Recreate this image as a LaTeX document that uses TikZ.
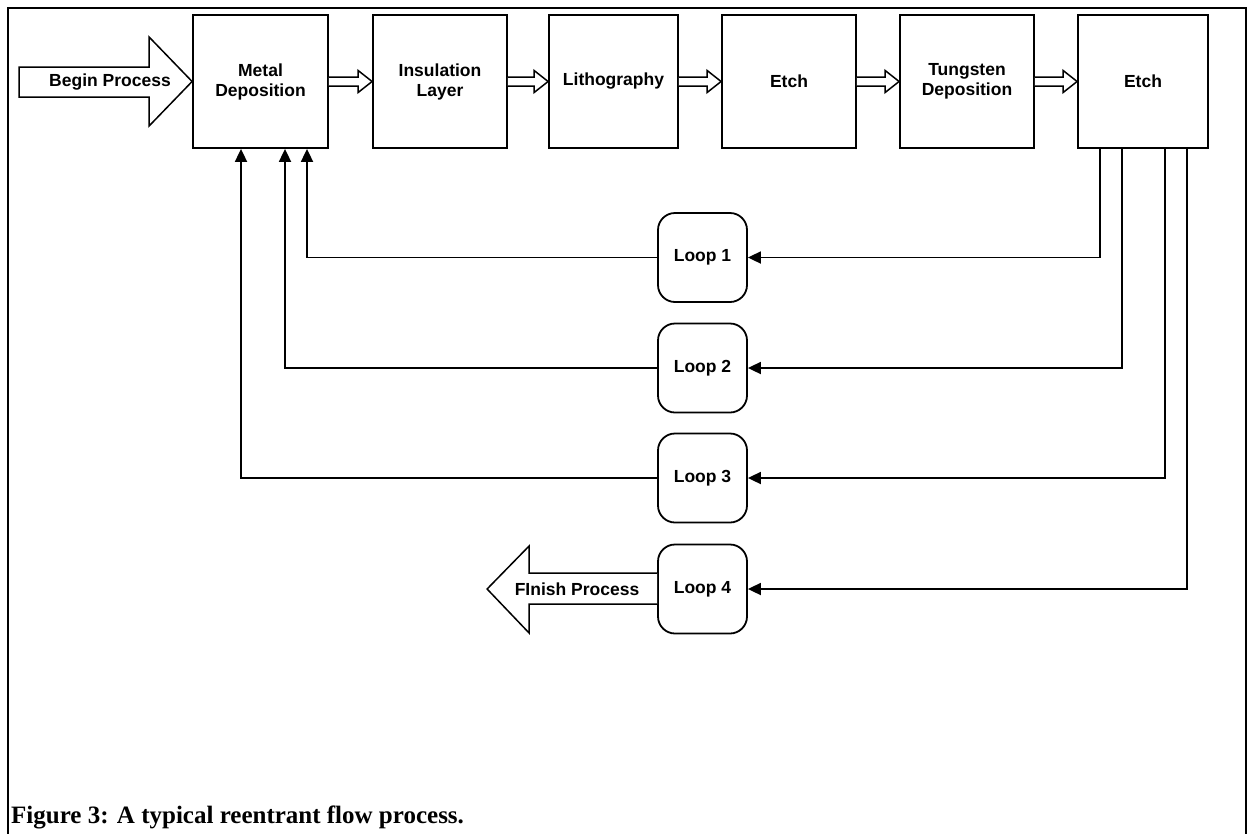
\documentclass[tikz,border=0pt]{standalone}
\usepackage{fontspec}
\newfontfamily\diagfont{Liberation Sans}
\newfontfamily\capfont{Liberation Serif}
\usetikzlibrary{arrows.meta,calc}
\newcommand\hollowto[2]{\draw[hollow] ($(#1.east)+(0,-4.5)$) -- ($(#2.west)+(-14,-4.5)$) -- ($(#2.west)+(-14,-11)$) -- (#2.west) -- ($(#2.west)+(-14,11)$) -- ($(#2.west)+(-14,4.5)$) -- ($(#1.east)+(0,4.5)$);}
\begin{document}
\begin{tikzpicture}[x=1pt,y=-1pt,
  lbl/.style={font=\diagfont\bfseries\fontsize{17.5}{20}\selectfont,align=center,inner sep=0pt},
  proc/.style={lbl,draw,line width=1.8pt,minimum height=133pt},
  loopbox/.style={lbl,draw,line width=1.8pt,rounded corners=17pt,minimum width=89pt,minimum height=89pt},
  hollow/.style={draw,line width=1.5pt,fill=white,line join=miter},
  bigarrow/.style={draw,line width=1.5pt,fill=white,line join=miter},
  fb/.style={line width=1.8pt,-{Triangle[length=13pt,width=12pt]}},
  frame/.style={line width=2.8pt}
]
\useasboundingbox (0,0) rectangle (1255,833);
\draw[frame] (8,840) -- (8,8) -- (1246,8) -- (1246,840);

\node[proc,minimum width=135pt] (m) at (260.5,81.5) {Metal\\Deposition};
\node[proc,minimum width=134pt] (ins) at (440,81.5) {Insulation\\Layer};
\node[proc,minimum width=129pt] (lit) at (613.5,81.5) {Lithography};
\node[proc,minimum width=134pt] (e1) at (789,81.5) {Etch};
\node[proc,minimum width=134pt] (tg) at (967,81.5) {Tungsten\\Deposition};
\node[proc,minimum width=130pt] (e2) at (1143,81.5) {Etch};

\hollowto{m}{ins}
\hollowto{ins}{lit}
\hollowto{lit}{e1}
\hollowto{e1}{tg}
\hollowto{tg}{e2}

% begin arrow
\draw[bigarrow] (m.west) -- ++(-43,-44.5) -- ++(0,30) -- ++(-130,0) -- ++(0,30) -- ++(130,0) -- ++(0,29) -- cycle;
\node[lbl] (begin) at (110,82) {Begin Process};

\node[loopbox] (L1) at (702.5,257.5) {Loop 1};
\node[loopbox] (L2) at (702.5,368) {Loop 2};
\node[loopbox] (L3) at (702.5,478) {Loop 3};
\node[loopbox] (L4) at (702.5,589) {Loop 4};

\draw[fb] ([xshift=-43pt]e2.south) |- (L1.east);
\draw[fb] ([xshift=-21pt]e2.south) |- (L2.east);
\draw[fb] ([xshift=22pt]e2.south) |- (L3.east);
\draw[fb] ([xshift=44pt]e2.south) |- (L4.east);

\draw[fb] (L1.west) -| ([xshift=46.5pt]m.south);
\draw[fb] (L2.west) -| ([xshift=24.5pt]m.south);
\draw[fb] (L3.west) -| ([xshift=-19.5pt]m.south);

% finish arrow
\draw[bigarrow] ([yshift=16pt]L4.west) -- ++(-128,0) -- ++(0,-27) -- ++(-42,43) -- ++(42,44) -- ++(0,-29) -- ++(128,0);
\node[lbl] (finish) at (577,589) {FInish Process};

\node[anchor=base west,inner sep=0pt,font=\capfont\bfseries\fontsize{25}{30}\selectfont] (cap) at (11,823) {Figure 3: A typical reentrant flow process.};
\end{tikzpicture}
\end{document}
